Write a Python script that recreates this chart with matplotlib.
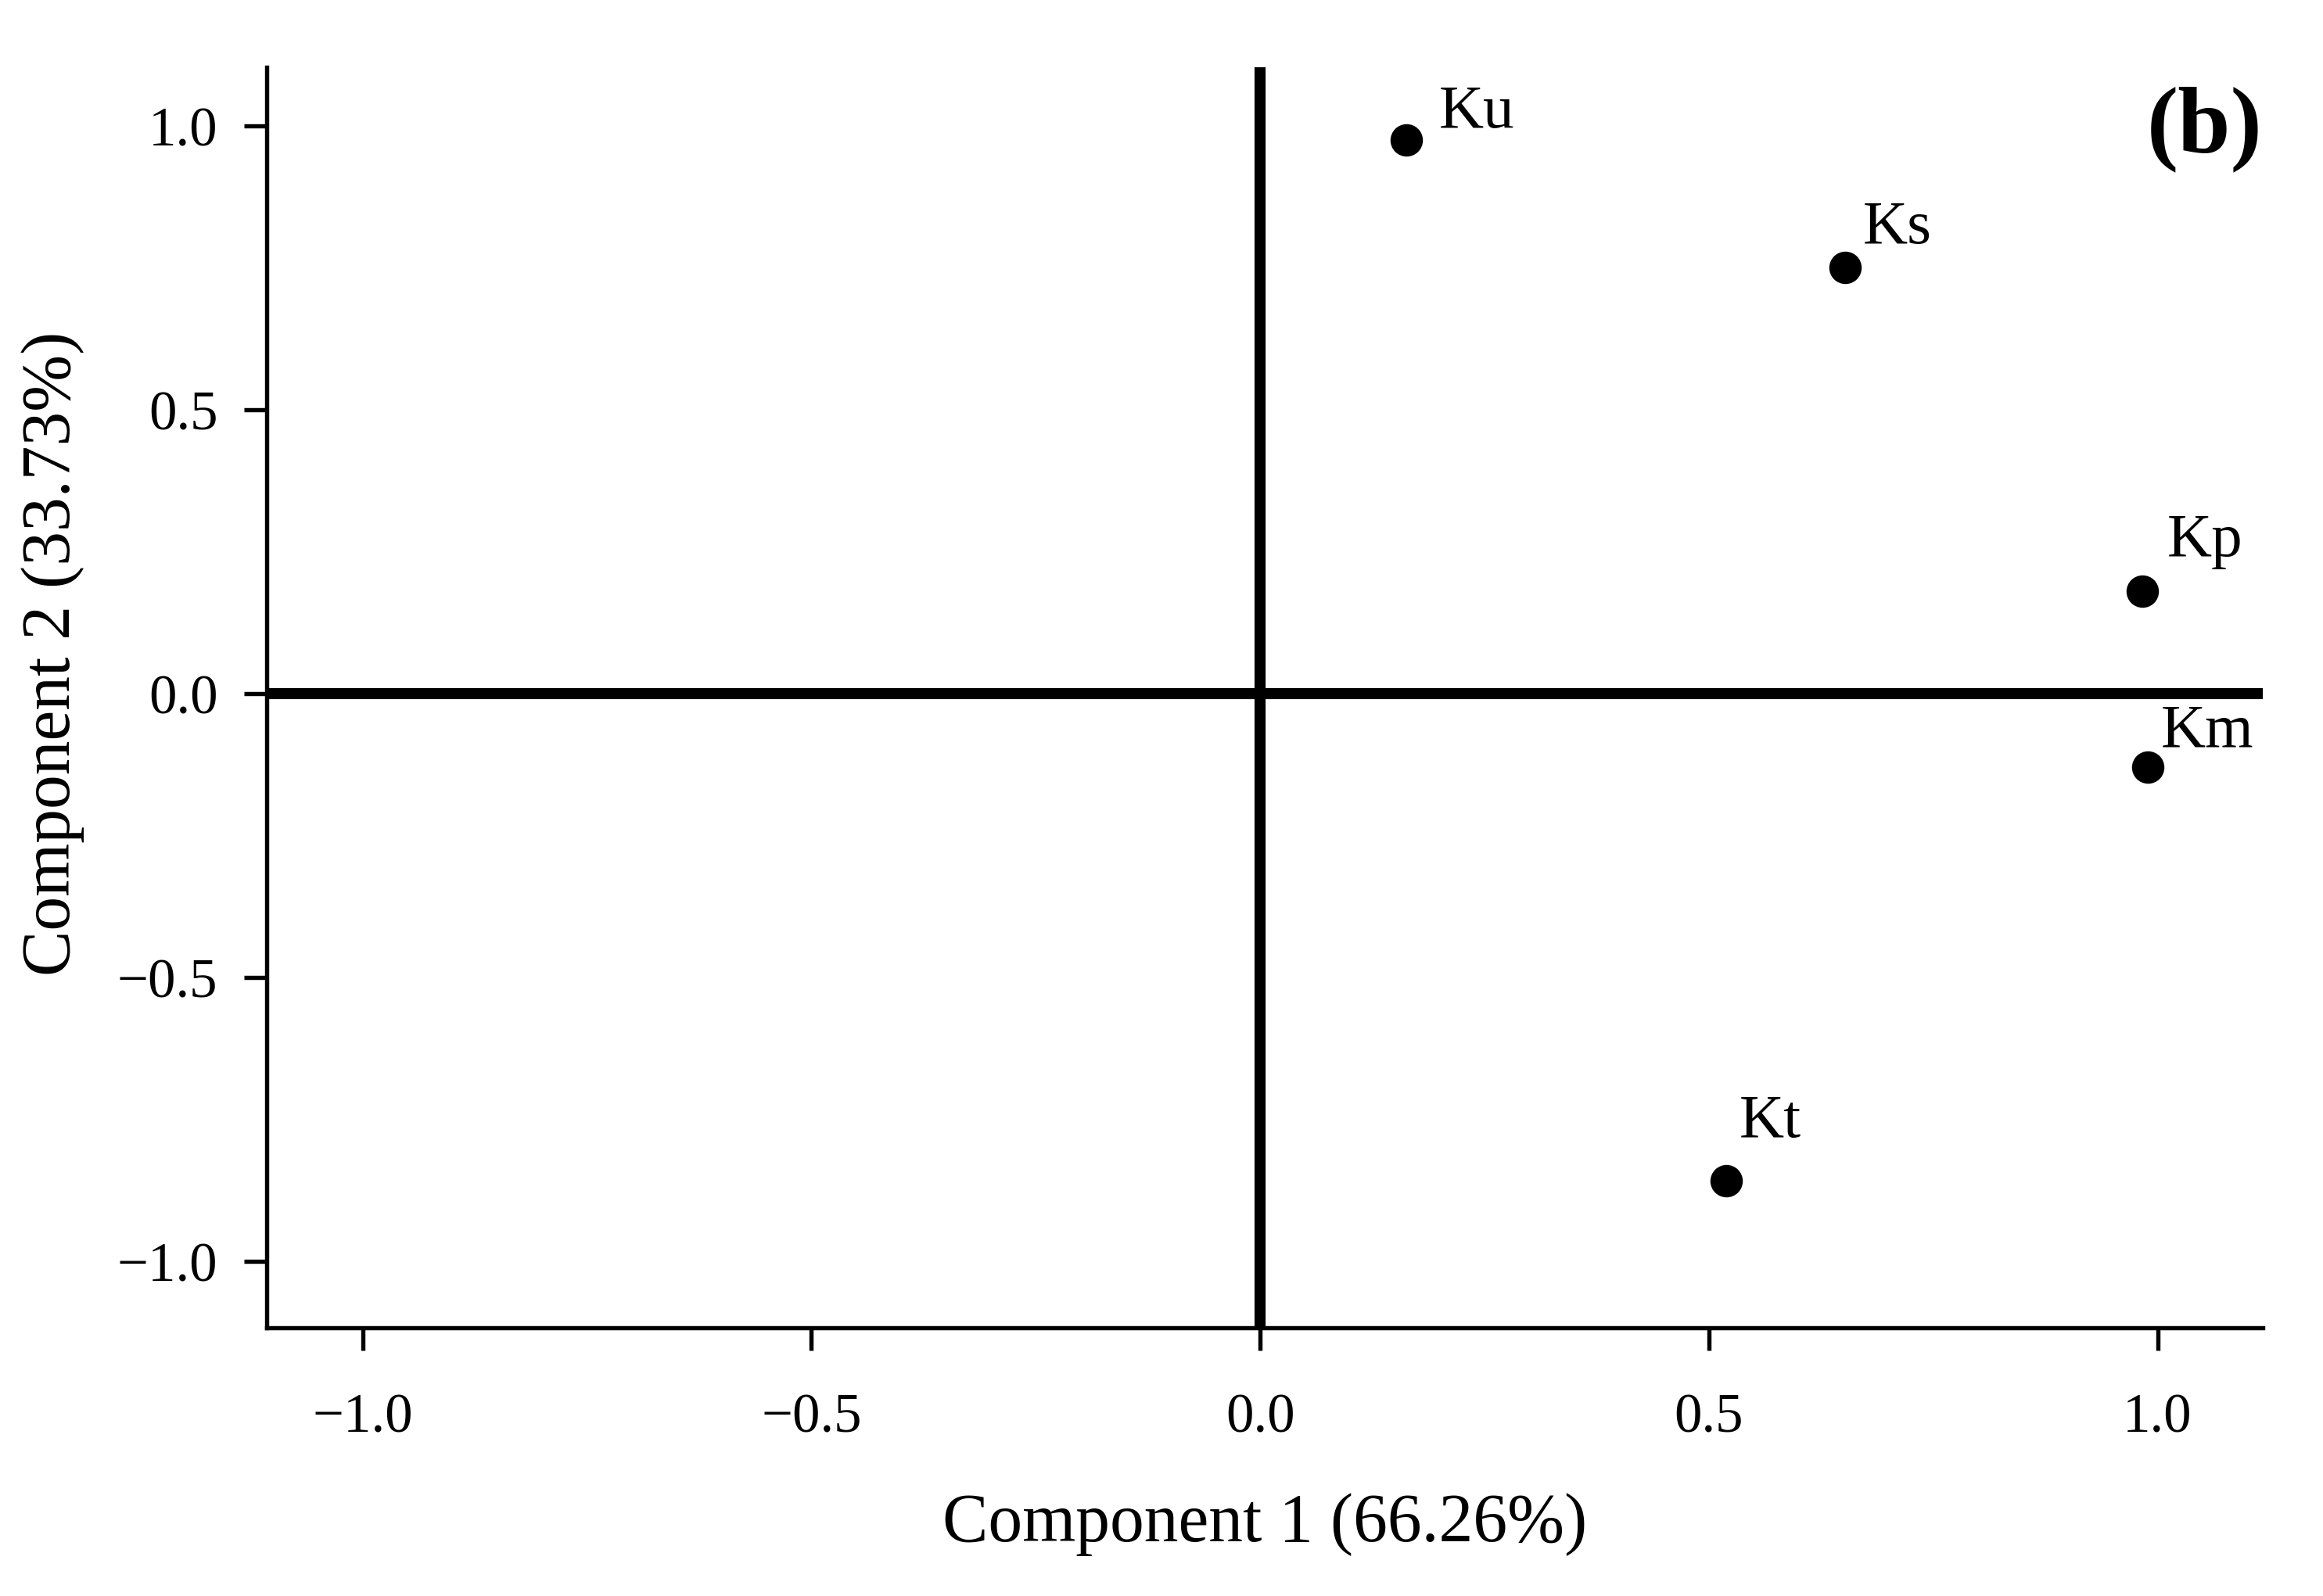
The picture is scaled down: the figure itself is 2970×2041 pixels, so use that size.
import matplotlib.pyplot as plt

plt.rcParams['font.family'] = ['Liberation Serif', 'DejaVu Serif']

# loadings
names = ['Ku', 'Ks', 'Kp', 'Km', 'Kt']
comp1 = [0.163, 0.652, 0.983, 0.989, 0.519]
comp2 = [0.975, 0.751, 0.180, -0.130, -0.858]
xticks = [-1.0, -0.5, 0.0, 0.5, 1.0]
yticks = [-1.0, -0.5, 0.0, 0.5, 1.0]

# label offsets (points)
offs = [(10, 4), (5.5, 7.5), (7.5, 11), (4, 6.5), (4, 13.5)]

fig = plt.figure(figsize=(9.9, 6.804), dpi=300)
ax = fig.add_axes([0.1148, 0.168, 0.8592, 0.790])

ax.axhline(0, color='black', lw=3.4, zorder=1)
ax.axvline(0, color='black', lw=3.4, zorder=1)
ax.scatter(comp1, comp2, s=80, color='black', zorder=3)
for n, x, y, o in zip(names, comp1, comp2, offs):
    ax.annotate(n, (x, y), xytext=o, textcoords='offset points',
                ha='left', va='baseline', fontsize=19)

ax.set_xlim(-1.107, 1.117)
ax.set_ylim(-1.117, 1.104)
ax.set_xticks(xticks)
ax.set_yticks(yticks)
ax.set_xticklabels([f'{t:.1f}'.replace('-', '\u2212') for t in xticks])
ax.set_yticklabels([f'{t:.1f}'.replace('-', '\u2212') for t in yticks])
ax.tick_params(direction='out', length=7, width=1.3, labelsize=17, pad=8)
ax.tick_params(axis='x', pad=13)
for s in ['top', 'right']:
    ax.spines[s].set_visible(False)
for s in ['left', 'bottom']:
    ax.spines[s].set_linewidth(1.3)

ax.set_xlabel('Component 1 (66.26%)', fontsize=21, labelpad=15)
ax.set_ylabel('Component 2 (33.73%)', fontsize=21, labelpad=10, y=0.535)
ax.text(1.0, 0.985, '(b)', transform=ax.transAxes, ha='right', va='top',
        fontsize=29, fontweight='bold')

fig.savefig('out.png', dpi=300)
